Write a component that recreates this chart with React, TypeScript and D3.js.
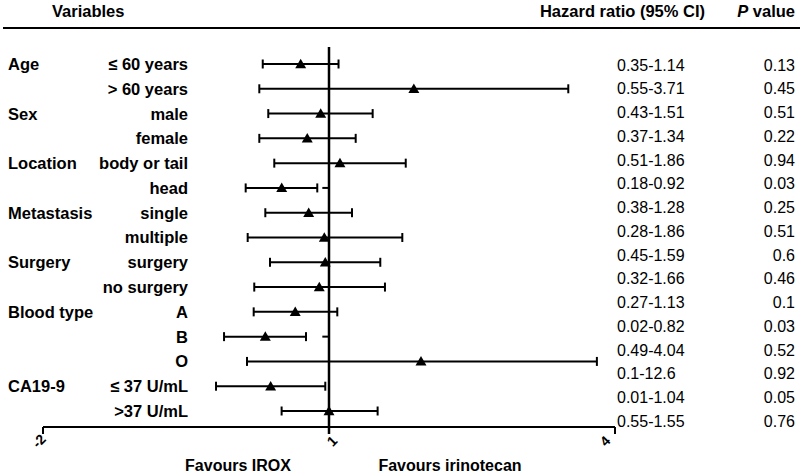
import React from "react";
import * as d3 from "d3";

const groupLabels = ["Age", "Sex", "Location", "Metastasis", "Surgery", "Blood type", "CA19-9"];
const groupRows = [0, 2, 4, 6, 8, 10, 13];
const subLabels = [
  "≤ 60 years", "> 60 years", "male", "female", "body or tail", "head",
  "single", "multiple", "surgery", "no surgery", "A", "B", "O", "≤ 37 U/mL", ">37 U/mL",
];
const lower = [0.305, 0.269, 0.363, 0.269, 0.426, 0.126, 0.332, 0.147, 0.381, 0.216, 0.21, -0.101, 0.14, -0.185, 0.503];
const point = [0.703, 1.89, 0.913, 0.772, 1.115, 0.504, 0.787, 0.951, 0.961, 0.898, 0.646, 0.332, 1.965, 0.388, 1.0];
const upper = [1.1, 3.51, 1.458, 1.28, 1.805, 0.877, 1.241, 1.769, 1.538, 1.587, 1.087, 0.759, 3.81, 0.961, 1.51];
const stubRows = [5, 11];
const stubFrom = [0.93, 0.93];
const stubTo = [1.0, 1.0];
const hrText = [
  "0.35-1.14", "0.55-3.71", "0.43-1.51", "0.37-1.34", "0.51-1.86", "0.18-0.92", "0.38-1.28", "0.28-1.86",
  "0.45-1.59", "0.32-1.66", "0.27-1.13", "0.02-0.82", "0.49-4.04", "0.1-12.6", "0.01-1.04", "0.55-1.55",
];
const pText = ["0.13", "0.45", "0.51", "0.22", "0.94", "0.03", "0.25", "0.51", "0.6", "0.46", "0.1", "0.03", "0.52", "0.92", "0.05", "0.76"];
const xTicks = [-2, 1, 4];
const xTickLabels = ["-2", "1", "4"];

export default function App() {
  const W = 800, H = 474;
  const x = d3.scaleLinear().domain([-2, 4]).range([43, 615]);
  const y = d3.scaleLinear().domain([0, subLabels.length - 1]).range([64, 411]);
  const yr = d3.scaleLinear().domain([0, hrText.length - 1]).range([65, 421]);
  const tri = d3.symbol().type(d3.symbolTriangle).size(52)() as string;
  const font = "Arial, 'Liberation Sans', sans-serif";
  const axisY = 427;
  const bold = { fontFamily: font, fontSize: 16.5, fontWeight: 700 } as const;
  const reg = { fontFamily: font, fontSize: 16, fontWeight: 400 } as const;
  const cap = 4.5;

  return (
    <svg width={W} height={H} style={{ position: "absolute", left: 0, top: 0, background: "#fff" }}>
      <rect width={W} height={H} fill="#fff" />
      {/* header */}
      <text x={52} y={17} {...bold}>Variables</text>
      <text x={705} y={17} textAnchor="end" {...bold}>Hazard ratio (95% CI)</text>
      <text x={795} y={17} textAnchor="end" {...bold}>
        <tspan fontStyle="italic">P</tspan> value
      </text>
      <line x1={3} x2={800} y1={28} y2={28} stroke="#000" strokeWidth={2} />

      {/* group labels */}
      {groupLabels.map((g, i) => (
        <text key={g} x={8} y={y(groupRows[i])} dy="0.36em" {...bold}>{g}</text>
      ))}
      {subLabels.map((s, i) => (
        <text key={i} x={188} y={y(i)} dy="0.36em" textAnchor="end" {...bold}>{s}</text>
      ))}

      {/* reference line */}
      <line x1={x(1)} x2={x(1)} y1={47} y2={axisY + 7} stroke="#000" strokeWidth={2.5} />

      {/* CIs */}
      {subLabels.map((_, i) => (
        <g key={i} stroke="#000" strokeWidth={2}>
          <line x1={x(lower[i])} x2={x(upper[i])} y1={y(i)} y2={y(i)} />
          <line x1={x(lower[i])} x2={x(lower[i])} y1={y(i) - cap} y2={y(i) + cap} />
          <line x1={x(upper[i])} x2={x(upper[i])} y1={y(i) - cap} y2={y(i) + cap} />
        </g>
      ))}
      {stubRows.map((r, i) => (
        <line key={i} x1={x(stubFrom[i])} x2={x(stubTo[i])} y1={y(r)} y2={y(r)} stroke="#000" strokeWidth={2} />
      ))}
      {point.map((p, i) => (
        <path key={i} d={tri} transform={`translate(${x(p)},${y(i) + 1})`} fill="#000" />
      ))}

      {/* x axis */}
      <line x1={x(-2)} x2={x(4)} y1={axisY} y2={axisY} stroke="#000" strokeWidth={2} />
      {xTicks.map((t, i) => (
        <g key={t}>
          <line x1={x(t)} x2={x(t)} y1={axisY} y2={axisY + 7} stroke="#000" strokeWidth={2} />
          <text
            transform={`translate(${x(t) - (i === 0 ? 4 : i === 2 ? 10 : -3)},${axisY + 14}) rotate(-45)`}
            textAnchor="middle"
            dy="0.35em"
            {...bold}
            fontSize={14}
          >
            {xTickLabels[i]}
          </text>
        </g>
      ))}
      <text x={238} y={465} dy="0.36em" textAnchor="middle" {...bold} fontSize={16}>Favours IROX</text>
      <text x={450} y={465} dy="0.36em" textAnchor="middle" {...bold} fontSize={16}>Favours irinotecan</text>

      {/* right columns */}
      {hrText.map((t, i) => (
        <text key={i} x={617} y={yr(i)} dy="0.36em" {...reg}>{t}</text>
      ))}
      {pText.map((t, i) => (
        <text key={i} x={795} y={yr(i)} dy="0.36em" textAnchor="end" {...reg}>{t}</text>
      ))}
    </svg>
  );
}
